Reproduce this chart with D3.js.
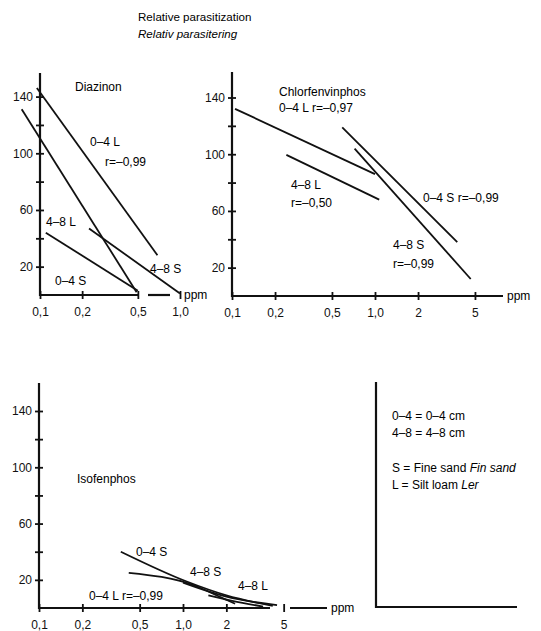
<!DOCTYPE html>
<html>
<head>
<meta charset="utf-8">
<script src="https://cdn.jsdelivr.net/npm/d3@7"></script>
<style>
  body { margin: 0; background: #fff; }
  svg { display: block; font-family: "Liberation Sans", Arial, sans-serif; }
</style>
</head>
<body>
<script>
// y ticks (relative parasitization) and which get a label
const yTicks = [20, 40, 60, 80, 100, 120, 140];
const yLabels = [20, 60, 100, 140];

// x ticks (ppm, log scale)
const xTicksShort = [0.1, 0.2, 0.5, 1.0];
const xTicksLong = [0.1, 0.2, 0.5, 1.0, 2, 5];
const xTickText = { 0.1: "0,1", 0.2: "0,2", 0.5: "0,5", 1: "1,0", 2: "2", 5: "5" };

// Diazinon lines [ppm, value]
const diazinon04L = [[0.095, 146], [0.69, 28]];
const diazinon48L = [[0.074, 131], [0.49, 2]];
const diazinon04S = [[0.11, 44], [0.5, 3]];
const diazinon48S = [[0.224, 47], [1.0, 1]];

// Chlorfenvinphos lines
const chlor04L = [[0.105, 132], [1.0, 86]];
const chlor48L = [[0.24, 99.5], [1.07, 68]];
const chlor04S = [[0.59, 119], [3.76, 38]];
const chlor48S = [[0.72, 104], [4.67, 12]];

// Isofenphos lines
const iso04S = [[0.37, 40], [1.05, 19], [2.0, 9], [4.2, 1.5]];
const iso48S = [[0.42, 25], [1.2, 16], [1.8, 8], [2.3, 3]];
const iso48L = [[1.0, 18], [2.0, 8], [4.5, 2]];
const iso04L = [[1.5, 9], [2.2, 5], [3.6, 1]];

const svg = d3.select("body").append("svg")
    .attr("width", 541)
    .attr("height", 631);

// title
svg.append("text").attr("x", 138).attr("y", 21).attr("font-size", 11.6).text("Relative parasitization");
svg.append("text").attr("x", 138).attr("y", 38).attr("font-size", 11.6).attr("font-style", "italic").text("Relativ parasitering");

const drawPanel = (p) => {
    const x = d3.scaleLog().domain(p.xDomain).range(p.xRange);
    const y = d3.scaleLinear().domain([0, 140]).range(p.yRange);
    const x0 = p.xRange[0];
    const base = y(0);

    // y axis line
    svg.append("line")
        .attr("x1", x0).attr("x2", x0)
        .attr("y1", p.axisTop).attr("y2", base + 1)
        .attr("stroke", "#111").attr("stroke-width", 2.2);

    const gy = svg.append("g")
        .attr("transform", `translate(${x0},0)`)
        .attr("font-family", null)
        .call(d3.axisLeft(y).tickValues(yTicks).tickFormat(d => yLabels.includes(d) ? d : ""));
    gy.select(".domain").remove();
    gy.selectAll(".tick line").attr("x1", -4).attr("x2", 4).attr("stroke", "#111").attr("stroke-width", 1.8);
    gy.selectAll(".tick text").attr("x", -7).attr("font-size", 12).attr("fill", "#111");

    // x axis line pieces
    p.xLine.forEach(seg => {
        svg.append("line")
            .attr("x1", seg[0]).attr("x2", seg[1])
            .attr("y1", base).attr("y2", base)
            .attr("stroke", "#111").attr("stroke-width", 2.2);
    });

    const gx = svg.append("g")
        .attr("transform", `translate(0,${base})`)
        .attr("font-family", null)
        .call(d3.axisBottom(x).tickValues(p.xTicks).tickFormat(d => xTickText[d]));
    gx.select(".domain").remove();
    gx.selectAll(".tick line").attr("y1", -4).attr("y2", 4).attr("stroke", "#111").attr("stroke-width", 1.8);
    gx.selectAll(".tick text").attr("y", 12).attr("font-size", 12).attr("fill", "#111");

    svg.append("text").attr("x", p.ppmX).attr("y", base + 4).attr("font-size", 12).text("ppm");

    const line = d3.line().x(d => x(d[0])).y(d => y(d[1])).curve(d3.curveMonotoneX);
    p.series.forEach(s => {
        svg.append("path")
            .datum(s)
            .attr("d", line)
            .attr("fill", "none")
            .attr("stroke", "#111")
            .attr("stroke-width", 1.8);
    });

    p.labels.forEach(l => {
        svg.append("text").attr("x", l[0]).attr("y", l[1]).attr("font-size", 12).text(l[2]);
    });
}

drawPanel({
    xDomain: [0.1, 1], xRange: [40, 180], yRange: [295, 96.6], axisTop: 73,
    xTicks: xTicksShort, xLine: [[39, 138], [148, 170]], ppmX: 184,
    series: [diazinon04L, diazinon48L, diazinon04S, diazinon48S],
    labels: [[75, 91, "Diazinon"], [90, 146, "0–4 L"], [105, 166, "r=–0,99"],
             [46, 226, "4–8 L"], [55, 285, "0–4 S"], [150, 273, "4–8 S"]]
});

drawPanel({
    xDomain: [0.1, 10], xRange: [232, 518], yRange: [296, 97.5], axisTop: 72,
    xTicks: xTicksLong, xLine: [[231, 503]], ppmX: 507,
    series: [chlor04L, chlor48L, chlor04S, chlor48S],
    labels: [[279, 96, "Chlorfenvinphos"], [279, 112, "0–4 L r=–0,97"], [291, 189, "4–8 L"],
             [291, 207, "r=–0,50"], [423, 202, "0–4 S r=–0,99"], [393, 249, "4–8 S"], [393, 268, "r=–0,99"]]
});

drawPanel({
    xDomain: [0.1, 10], xRange: [39, 327], yRange: [608, 411], axisTop: 383,
    xTicks: xTicksLong, xLine: [[38, 270], [290, 327]], ppmX: 331,
    series: [iso04S, iso48S, iso48L, iso04L],
    labels: [[77, 483, "Isofenphos"], [136, 556, "0–4 S"], [190, 576, "4–8 S"],
             [238, 590, "4–8 L"], [89, 600, "0–4 L  r=–0,99"]]
});

// legend panel
svg.append("path")
    .attr("d", "M376,382V607H517")
    .attr("fill", "none").attr("stroke", "#111").attr("stroke-width", 2.2);

const legendLines = [
    [420, "0–4 = 0–4 cm", ""],
    [437, "4–8 = 4–8 cm", ""],
    [472, "S = Fine sand ", "Fin sand"],
    [489, "L = Silt loam ", "Ler"]
];
legendLines.forEach(l => {
    const t = svg.append("text").attr("x", 392).attr("y", l[0]).attr("font-size", 12);
    t.append("tspan").text(l[1]);
    if (l[2]) t.append("tspan").attr("font-style", "italic").text(l[2]);
});
</script>
</body>
</html>
